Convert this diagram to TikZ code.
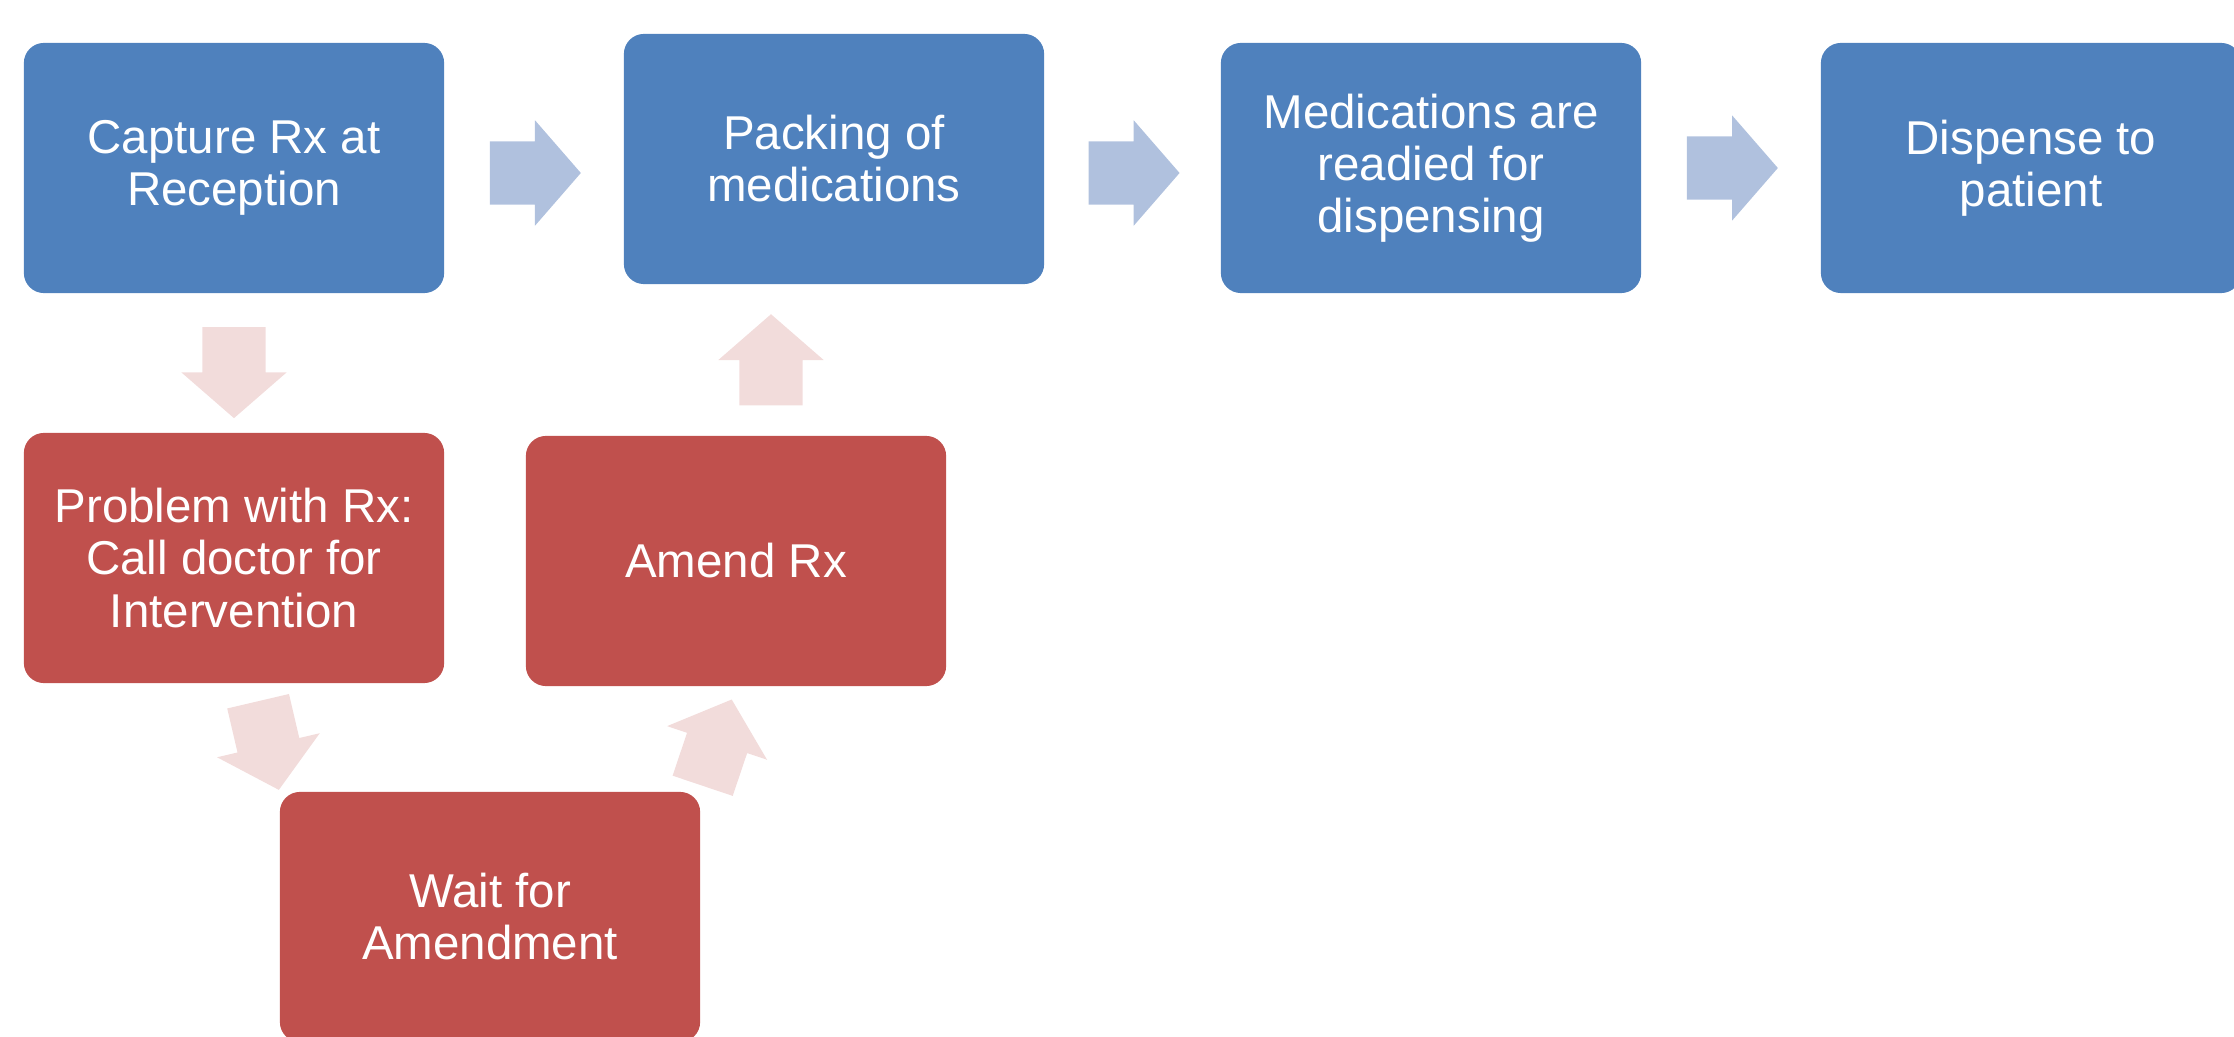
\documentclass[tikz,border=0pt]{standalone}
\usepackage{fontspec}
\setmainfont{Liberation Sans}
\usetikzlibrary{shapes.arrows,calc}
\definecolor{stageblue}{HTML}{4F81BD}
\definecolor{issuered}{HTML}{C0504D}
\definecolor{flowblue}{HTML}{B0C1DE}
\definecolor{flowpink}{HTML}{F2DCDB}
\begin{document}
\begin{tikzpicture}[
  x=0.01cm, y=-0.01cm,
  align=center,
  font=\fontsize{13.5}{14.8}\selectfont,
  box/.style={rectangle, rounded corners=0.2cm, text=white, inner sep=0pt,
    minimum width=4.2cm, minimum height=2.5cm},
  stage/.style={box, fill=stageblue},
  issue/.style={box, fill=issuered},
  flow/.style={single arrow, inner xsep=0pt, inner ysep=0.31cm,
    minimum height=0.91cm, single arrow head extend=0.21cm,
    single arrow tip angle=98, sloped, allow upside down},
  forward/.style={flow, fill=flowblue},
  back/.style={flow, fill=flowpink}]
\useasboundingbox (0,0) rectangle (2234,1037);
\node [stage] (cap) at (234,168) {Capture Rx at\\Reception};
\node [stage] (pack) at (834,159) {Packing of\\medications};
\node [stage] (med) at (1431,168) {Medications are\\readied for\\dispensing};
\node [stage] (disp) at (2031,168) {Dispense to\\patient};
\node [issue] (prob) at (234,558) {Problem with Rx:\\Call doctor for\\Intervention};
\node [issue] (amend) at (736,561) {Amend Rx};
\node [issue] (wait) at (490,917) {Wait for\\Amendment};
\path ($(cap.east)+(0,5)$) -- ($(cap.east -| pack.west)+(0,5)$)
  node [forward, pos=.43] (f1) {};
\path ($(med.west -| pack.east)+(0,5)$) -- ($(med.west)+(0,5)$)
  node [forward, pos=.43] (f2) {};
\path (med.east) -- (disp.west) node [forward, pos=.43] (f3) {};
\path (cap.south) -- (prob.north) node [back, pos=.47] (b1) {};
\path ([xshift=0.2cm]prob.south) -- (wait.north west) node [back, pos=.45] (b2) {};
\path (wait.north east) -- (amend.south) node [back, pos=.34] (b3) {};
\path ($(amend.north)+(35,0)$) -- ($(amend.north |- pack.south)+(35,0)$)
  node [back, pos=.41] (b4) {};
\end{tikzpicture}
\end{document}
